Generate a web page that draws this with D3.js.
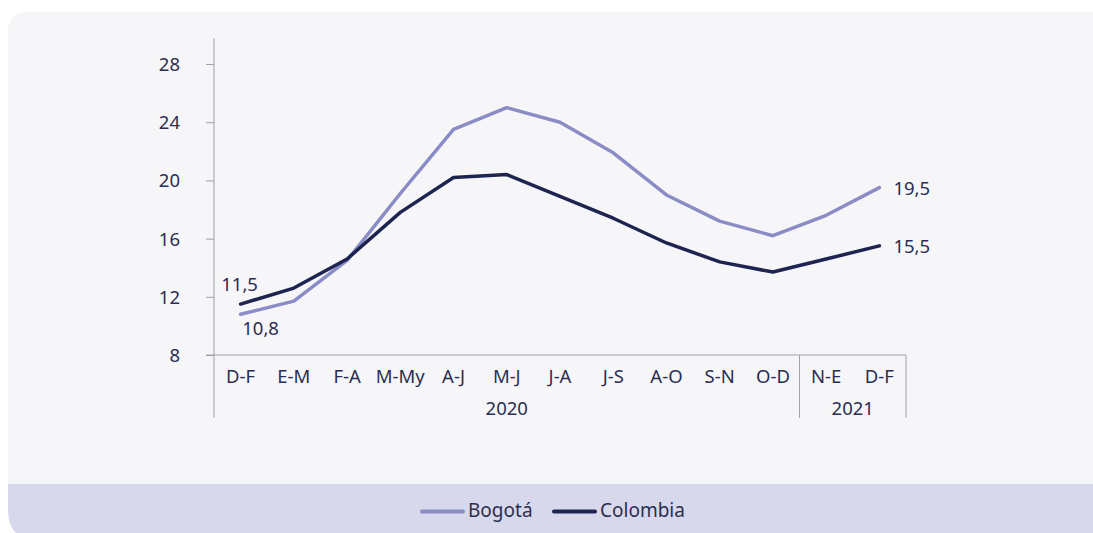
<!DOCTYPE html>
<html><head><meta charset="utf-8">
<script src="https://cdn.jsdelivr.net/npm/d3@7"></script>
<style>html,body{margin:0;padding:0;background:#fff;}svg{display:block;font-family:"Noto Sans",sans-serif;}</style>
</head><body>
<svg id="c" width="1093" height="533"></svg>
<script>
const categories = ["D-F","E-M","F-A","M-My","A-J","M-J","J-A","J-S","A-O","S-N","O-D","N-E","D-F"];
const years = [{label:"2020", from:0, to:11},{label:"2021", from:11, to:13}];
const bogota = [10.8, 11.7, 14.5, 19.1, 23.5, 25.0, 24.0, 21.9, 19.0, 17.2, 16.2, 17.6, 19.5];
const colombia = [11.5, 12.6, 14.6, 17.8, 20.2, 20.4, 18.9, 17.4, 15.7, 14.4, 13.7, 14.6, 15.5];
const yTicks = [8, 12, 16, 20, 24, 28];

const svg = d3.select("#c");
const textColor = "#2b2e52";
const axisColor = "#a0a0a8";
const fs = 18.5;

// panel background
const panelX = 8, panelY = 12, r = 20, bandY = 484;
svg.append("path")
  .attr("d", `M${panelX},${panelY+r} Q${panelX},${panelY} ${panelX+r},${panelY} L1100,${panelY} L1100,${bandY} L${panelX},${bandY} Z`)
  .attr("fill", "#f6f6f9");
svg.append("path")
  .attr("d", `M${panelX},${bandY} L1100,${bandY} L1100,540 L${panelX+r+10},540 Q${panelX},540 ${panelX},${540-r-10} Z`)
  .attr("fill", "#d8d8ec");

const x = d3.scaleBand().domain(d3.range(categories.length)).range([214, 906]);
const y = d3.scaleLinear().domain([8, 28]).range([355, 64]);
const cx = i => x(i) + x.bandwidth()/2;

// y axis
const yAxis = svg.append("g").attr("transform", "translate(214,0)")
  .call(d3.axisLeft(y).tickValues(yTicks).tickSize(8).tickPadding(26).tickFormat(d3.format("d")));
yAxis.select(".domain").remove();
yAxis.selectAll("line").attr("stroke", axisColor);
yAxis.selectAll("text").attr("fill", textColor).attr("font-size", fs).attr("font-family", "Noto Sans")
  .attr("dy", "0.35em");
svg.append("line").attr("x1", 214).attr("x2", 214).attr("y1", 38).attr("y2", 418).attr("stroke", axisColor);

// x axis
svg.append("line").attr("x1", 206).attr("x2", 906).attr("y1", y(8)).attr("y2", y(8)).attr("stroke", axisColor);
const xAxis = svg.append("g").attr("transform", `translate(0,${y(8)})`)
  .call(d3.axisBottom(x).tickSize(0).tickPadding(0).tickFormat(i => categories[i]));
xAxis.select(".domain").remove();
xAxis.selectAll("text").attr("fill", textColor).attr("font-size", fs).attr("font-family", "Noto Sans")
  .attr("dy", null).attr("y", 28);

// year groups
years.forEach((g, k) => {
  const x0 = x(g.from), x1 = g.to >= categories.length ? x.range()[1] : x(g.to);
  if (k > 0) svg.append("line").attr("x1", x0).attr("x2", x0).attr("y1", y(8)).attr("y2", 418).attr("stroke", axisColor);
  if (g.to >= categories.length) svg.append("line").attr("x1", x1).attr("x2", x1).attr("y1", y(8)).attr("y2", 418).attr("stroke", axisColor);
  svg.append("text").attr("x", (x0 + x1)/2).attr("y", 415).attr("text-anchor", "middle")
    .attr("fill", textColor).attr("font-size", fs).text(g.label);
});

const line = d3.line().x((d, i) => cx(i)).y(d => y(d));
svg.append("path").datum(bogota).attr("d", line).attr("fill", "none")
  .attr("stroke", "#8a8cc6").attr("stroke-width", 3.5).attr("stroke-linejoin", "round").attr("stroke-linecap", "round");
svg.append("path").datum(colombia).attr("d", line).attr("fill", "none")
  .attr("stroke", "#1e2450").attr("stroke-width", 3.5).attr("stroke-linejoin", "round").attr("stroke-linecap", "round");

const fmt = v => d3.format(".1f")(v).replace(".", ",");
const last = categories.length - 1;
const lbl = (t, xx, yy, anchor) => svg.append("text").attr("x", xx).attr("y", yy).attr("text-anchor", anchor)
  .attr("fill", textColor).attr("font-size", fs).text(t);
lbl(fmt(colombia[0]), cx(0) - 1, y(colombia[0]) - 13, "middle");
lbl(fmt(bogota[0]), cx(0) + 20, y(bogota[0]) + 21, "middle");
lbl(fmt(bogota[last]), cx(last) + 14, y(bogota[last]) + 7, "start");
lbl(fmt(colombia[last]), cx(last) + 14, y(colombia[last]) + 7, "start");

// legend
const leg = [{name:"Bogotá", color:"#8a8cc6", x:422}, {name:"Colombia", color:"#1e2450", x:554}];
leg.forEach(l => {
  svg.append("line").attr("x1", l.x).attr("x2", l.x + 41).attr("y1", 511.5).attr("y2", 511.5)
    .attr("stroke", l.color).attr("stroke-width", 4).attr("stroke-linecap", "round");
  svg.append("text").attr("x", l.x + 46).attr("y", 517).attr("fill", textColor).attr("font-size", 19).text(l.name);
});
</script>
</body></html>
